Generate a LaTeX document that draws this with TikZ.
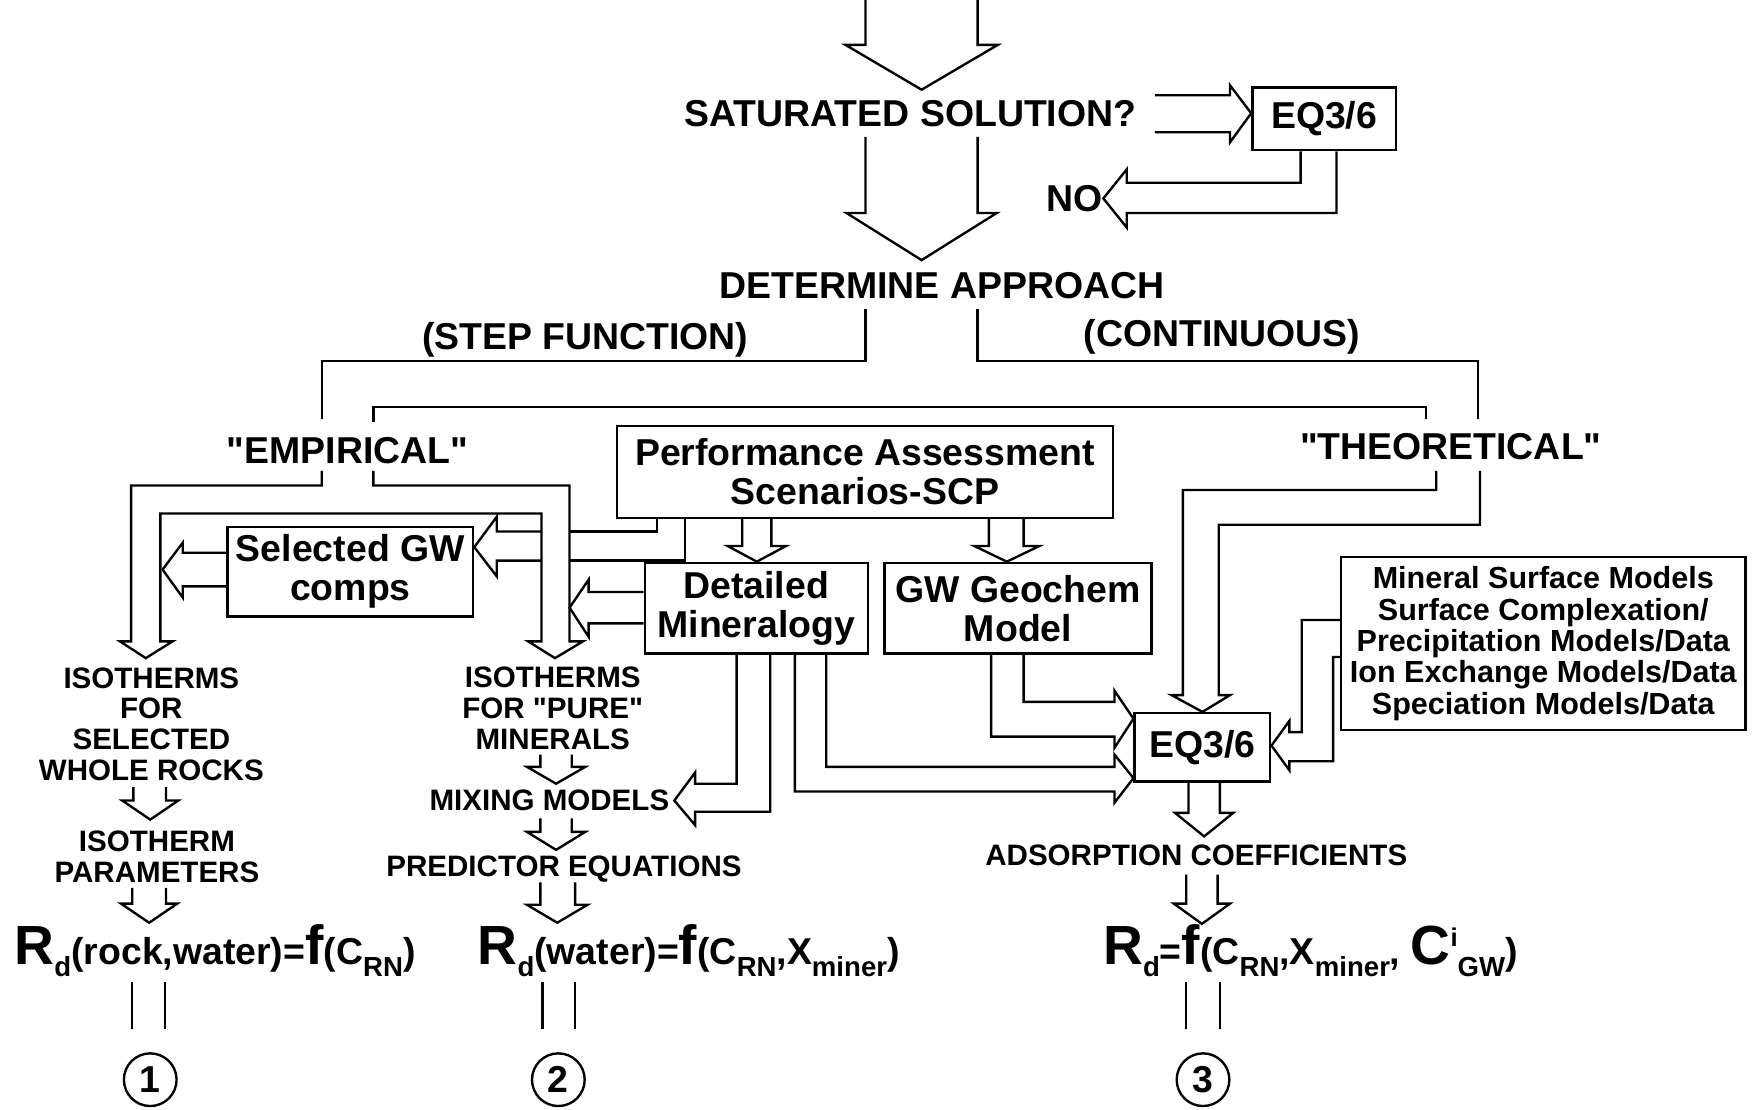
\documentclass[tikz,border=0pt]{standalone}
\usepackage{fontspec}
\setmainfont{Liberation Sans}[Ligatures=TeXOff]
\newcommand{\bigtxt}{\fontsize{19}{19.8}\selectfont\bfseries}
\newcommand{\smalltxt}{\fontsize{15}{15.7}\selectfont\bfseries}
\newcommand{\boxtxt}{\fontsize{15.5}{15.9}\selectfont\bfseries}
\newcommand{\bigsym}[1]{{\fontsize{28}{28}\selectfont #1}}
\newcommand{\lowsub}[1]{\raisebox{-6pt}{\fontsize{14}{14}\selectfont #1}}
\newcommand{\highsup}[1]{\raisebox{9pt}{\fontsize{13}{13}\selectfont #1}}
\begin{document}
\begin{tikzpicture}[x=0.02cm, y=-0.02cm, line width=1.2pt, line join=miter,
    box/.style={draw, inner sep=0pt, align=center, font=\bigtxt},
    lbl/.style={font=\bigtxt, inner sep=0pt},
    note/.style={font=\smalltxt, align=center, inner sep=0pt},
    ring/.style={draw, circle, minimum size=0.94cm, inner sep=0pt, font=\bigtxt}]
    \useasboundingbox (0,0) rectangle (1568,990);
    % Upper part
    \node[lbl] (sat) at (812,101) {SATURATED SOLUTION?};
    \node[box, minimum width=2.56cm, minimum height=1.12cm] (eqa) at (1181,106) {EQ3/6};
    \node[lbl] (no) at (958,177) {NO};
    \node[lbl] (det) at (840,255) {DETERMINE APPROACH};
    \node[lbl] (stepfn) at (522,303) {(STEP FUNCTION)};
    \node[lbl] (cont) at (1090,300) {(CONTINUOUS)};
    \node[lbl] (emp) at (310,402) {"EMPIRICAL"};
    \node[lbl] (theo) at (1294,398) {"THEORETICAL"};
    % Boxes
    \node[box, minimum width=8.86cm, minimum height=1.64cm] (perf) at (771.5,421) {Performance Assessment\\Scenarios-SCP};
    \node[box, minimum width=4.38cm, minimum height=1.6cm] (selgw) at (312.5,510) {Selected GW\\comps};
    \node[box, minimum width=3.98cm, minimum height=1.62cm] (detmin) at (674.5,542.5) {Detailed\\Mineralogy};
    \node[box, minimum width=4.76cm, minimum height=1.62cm] (geo) at (908,542.5) {GW Geochem\\Model};
    \node[box, minimum width=2.42cm, minimum height=1.22cm] (eqb) at (1072.5,666.5) {EQ3/6};
    \node[box, font=\boxtxt, minimum width=7.22cm, minimum height=3.08cm] (surf) at (1376.5,574) {Mineral Surface Models\\Surface Complexation/\\Precipitation Models/Data\\Ion Exchange Models/Data\\Speciation Models/Data};
    % Lower labels
    \node[note] (isoa) at (135,646) {ISOTHERMS\\FOR\\SELECTED\\WHOLE ROCKS};
    \node[note] (para) at (140,764) {ISOTHERM\\PARAMETERS};
    \node[note] (isob) at (493,632) {ISOTHERMS\\FOR "PURE"\\MINERALS};
    \node[note] (mix) at (490,714) {MIXING MODELS};
    \node[note] (pred) at (503,775) {PREDICTOR EQUATIONS};
    \node[note] (ads) at (1067,763) {ADSORPTION COEFFICIENTS};
    % Distribution coefficients
    \node[lbl, anchor=base west] (rda) at (12,860) {\bigsym{R}\lowsub{d}(rock,water)=\bigsym{f}(C\lowsub{RN})};
    \node[lbl, anchor=base west] (rdb) at (425,860) {\bigsym{R}\lowsub{d}(water)=\bigsym{f}(C\lowsub{RN},X\lowsub{miner})};
    \node[lbl, anchor=base west] (rdc) at (983,860) {\bigsym{R}\lowsub{d}=\bigsym{f}(C\lowsub{RN},X\lowsub{miner}, \bigsym{C}\highsup{i}\lowsub{GW})};
    \node[ring] (na) at (134,963) {1}; \node[ring] (nb) at (498,963) {2}; \node[ring] (nc) at (1073,963) {3};
    % Inlet and saturation test
    \draw (772,0) -- (772,40) -- (754,40) -- (822,80) -- (890,40) -- (872,40) -- (872,0);
    \draw (1030,85) -- (1097,85) -- (1097,76) -- (eqa.west |- sat) -- (1097,127) -- (1097,118) -- (1030,118);
    \draw (eqa.south -| 1160,0) -- (1160,163) -- (1005,163) -- (1005,151) -- (no.east) -- (1005,203) -- (1005,190) -- (1192,190) -- (eqa.south -| 1192,0);
    \draw (772,122) -- (772,190) -- (755,190) -- (822,232) -- (889,190) -- (872,190) -- (872,122);
    % Branches
    \draw (772,276) -- (772,322) -- (287,322) -- (287,374);
    \draw (872,276) -- (872,322) -- (1318,322) -- (1318,374);
    \draw (333,376) -- (333,363) -- (1272,363) -- (1272,374);
    % Empirical split
    \draw (287,420) -- (287,433) -- (117,433) -- (117,572) -- (107,572) -- (130,587) -- (154,572) -- (143,572) -- (143,458) -- (483,458) -- (483,572) -- (471,572) -- (495,587) -- (520,572) -- (508,572) -- (508,433) -- (333,433) -- (333,420);
    % Performance assessment outputs
    \draw (perf.south -| 586,0) -- (586,474) -- (508,474);
    \draw (perf.south -| 611,0) -- (611,500) -- (508,500);
    \draw (483,474) -- (443,474) -- (443,461) -- (selgw.east |- 0,488) -- (443,514) -- (443,500) -- (483,500);
    \draw (selgw.west |- 0,493) -- (163,493) -- (163,484) -- (145,508) -- (163,533) -- (163,523) -- (selgw.west |- 0,523);
    \draw (detmin.west |- 0,528) -- (525,528) -- (525,517) -- (508,542) -- (525,568) -- (525,556) -- (detmin.west |- 0,556);
    \draw (perf.south -| 662,0) -- (662,487) -- (649,487) -- (detmin.north -| 675,0) -- (701,487) -- (688,487) -- (perf.south -| 688,0);
    \draw (perf.south -| 882,0) -- (882,487) -- (869,487) -- (geo.north -| 898,0) -- (927,487) -- (913,487) -- (perf.south -| 913,0);
    % Into mixing models and EQ3/6
    \draw (detmin.south -| 657,0) -- (657,699) -- (620,699) -- (620,689) -- ([xshift=2pt]mix.east) -- (620,736) -- (620,724) -- (687,724) -- (detmin.south -| 687,0);
    \draw (detmin.south -| 737,0) -- (737,684) -- (994,684) -- (994,673) -- (eqb.west |- 0,694) -- (994,716) -- (994,706) -- (709,706) -- (detmin.south -| 709,0);
    \draw (geo.south -| 913,0) -- (913,626) -- (994,626) -- (994,616) -- (eqb.west |- 0,641) -- (994,667) -- (994,657) -- (884,657) -- (geo.south -| 884,0);
    \draw (1281,420) -- (1281,437) -- (1055,437) -- (1055,620) -- (1045,620) -- (eqb.north) -- (1097,620) -- (1087,620) -- (1087,468) -- (1320,468) -- (1320,420);
    \draw (surf.west |- 0,553) -- (1161,553) -- (1161,653) -- (1150,653) -- (1150,643) -- (eqb.east |- 0,665) -- (1150,687) -- (1150,679) -- (1189,679) -- (1189,586) -- (surf.west |- 0,586);
    \draw (eqb.south -| 1060,0) -- (1060,725) -- (1048,725) -- (1074,746) -- (1100,725) -- (1088,725) -- (eqb.south -| 1088,0);
    \draw (1058,780) -- (1058,806) -- (1047,806) -- (1072,824) -- (1097,806) -- (1086,806) -- (1086,780);
    % Small steps down the columns
    \draw (119,702) -- (119,714) -- (109,714) -- (134,731) -- (159,714) -- (148,714) -- (148,702);
    \draw (118,792) -- (118,806) -- (108,806) -- (133,823) -- (158,806) -- (148,806) -- (148,792);
    \draw (482,673) -- (482,684) -- (470,684) -- (496,699) -- (522,684) -- (510,684) -- (510,673);
    \draw (482,730) -- (482,742) -- (470,742) -- (496,758) -- (522,742) -- (510,742) -- (510,730);
    \draw (482,787) -- (482,807) -- (470,807) -- (497,823) -- (524,807) -- (513,807) -- (513,787);
    % Ties to the numbered cases
    \draw (118,876) -- (118,918); \draw (147,876) -- (147,918);
    \draw (484,876) -- (484,918); \draw (513,876) -- (513,918);
    \draw (1058,876) -- (1058,918); \draw (1088,876) -- (1088,918);
\end{tikzpicture}
\end{document}
